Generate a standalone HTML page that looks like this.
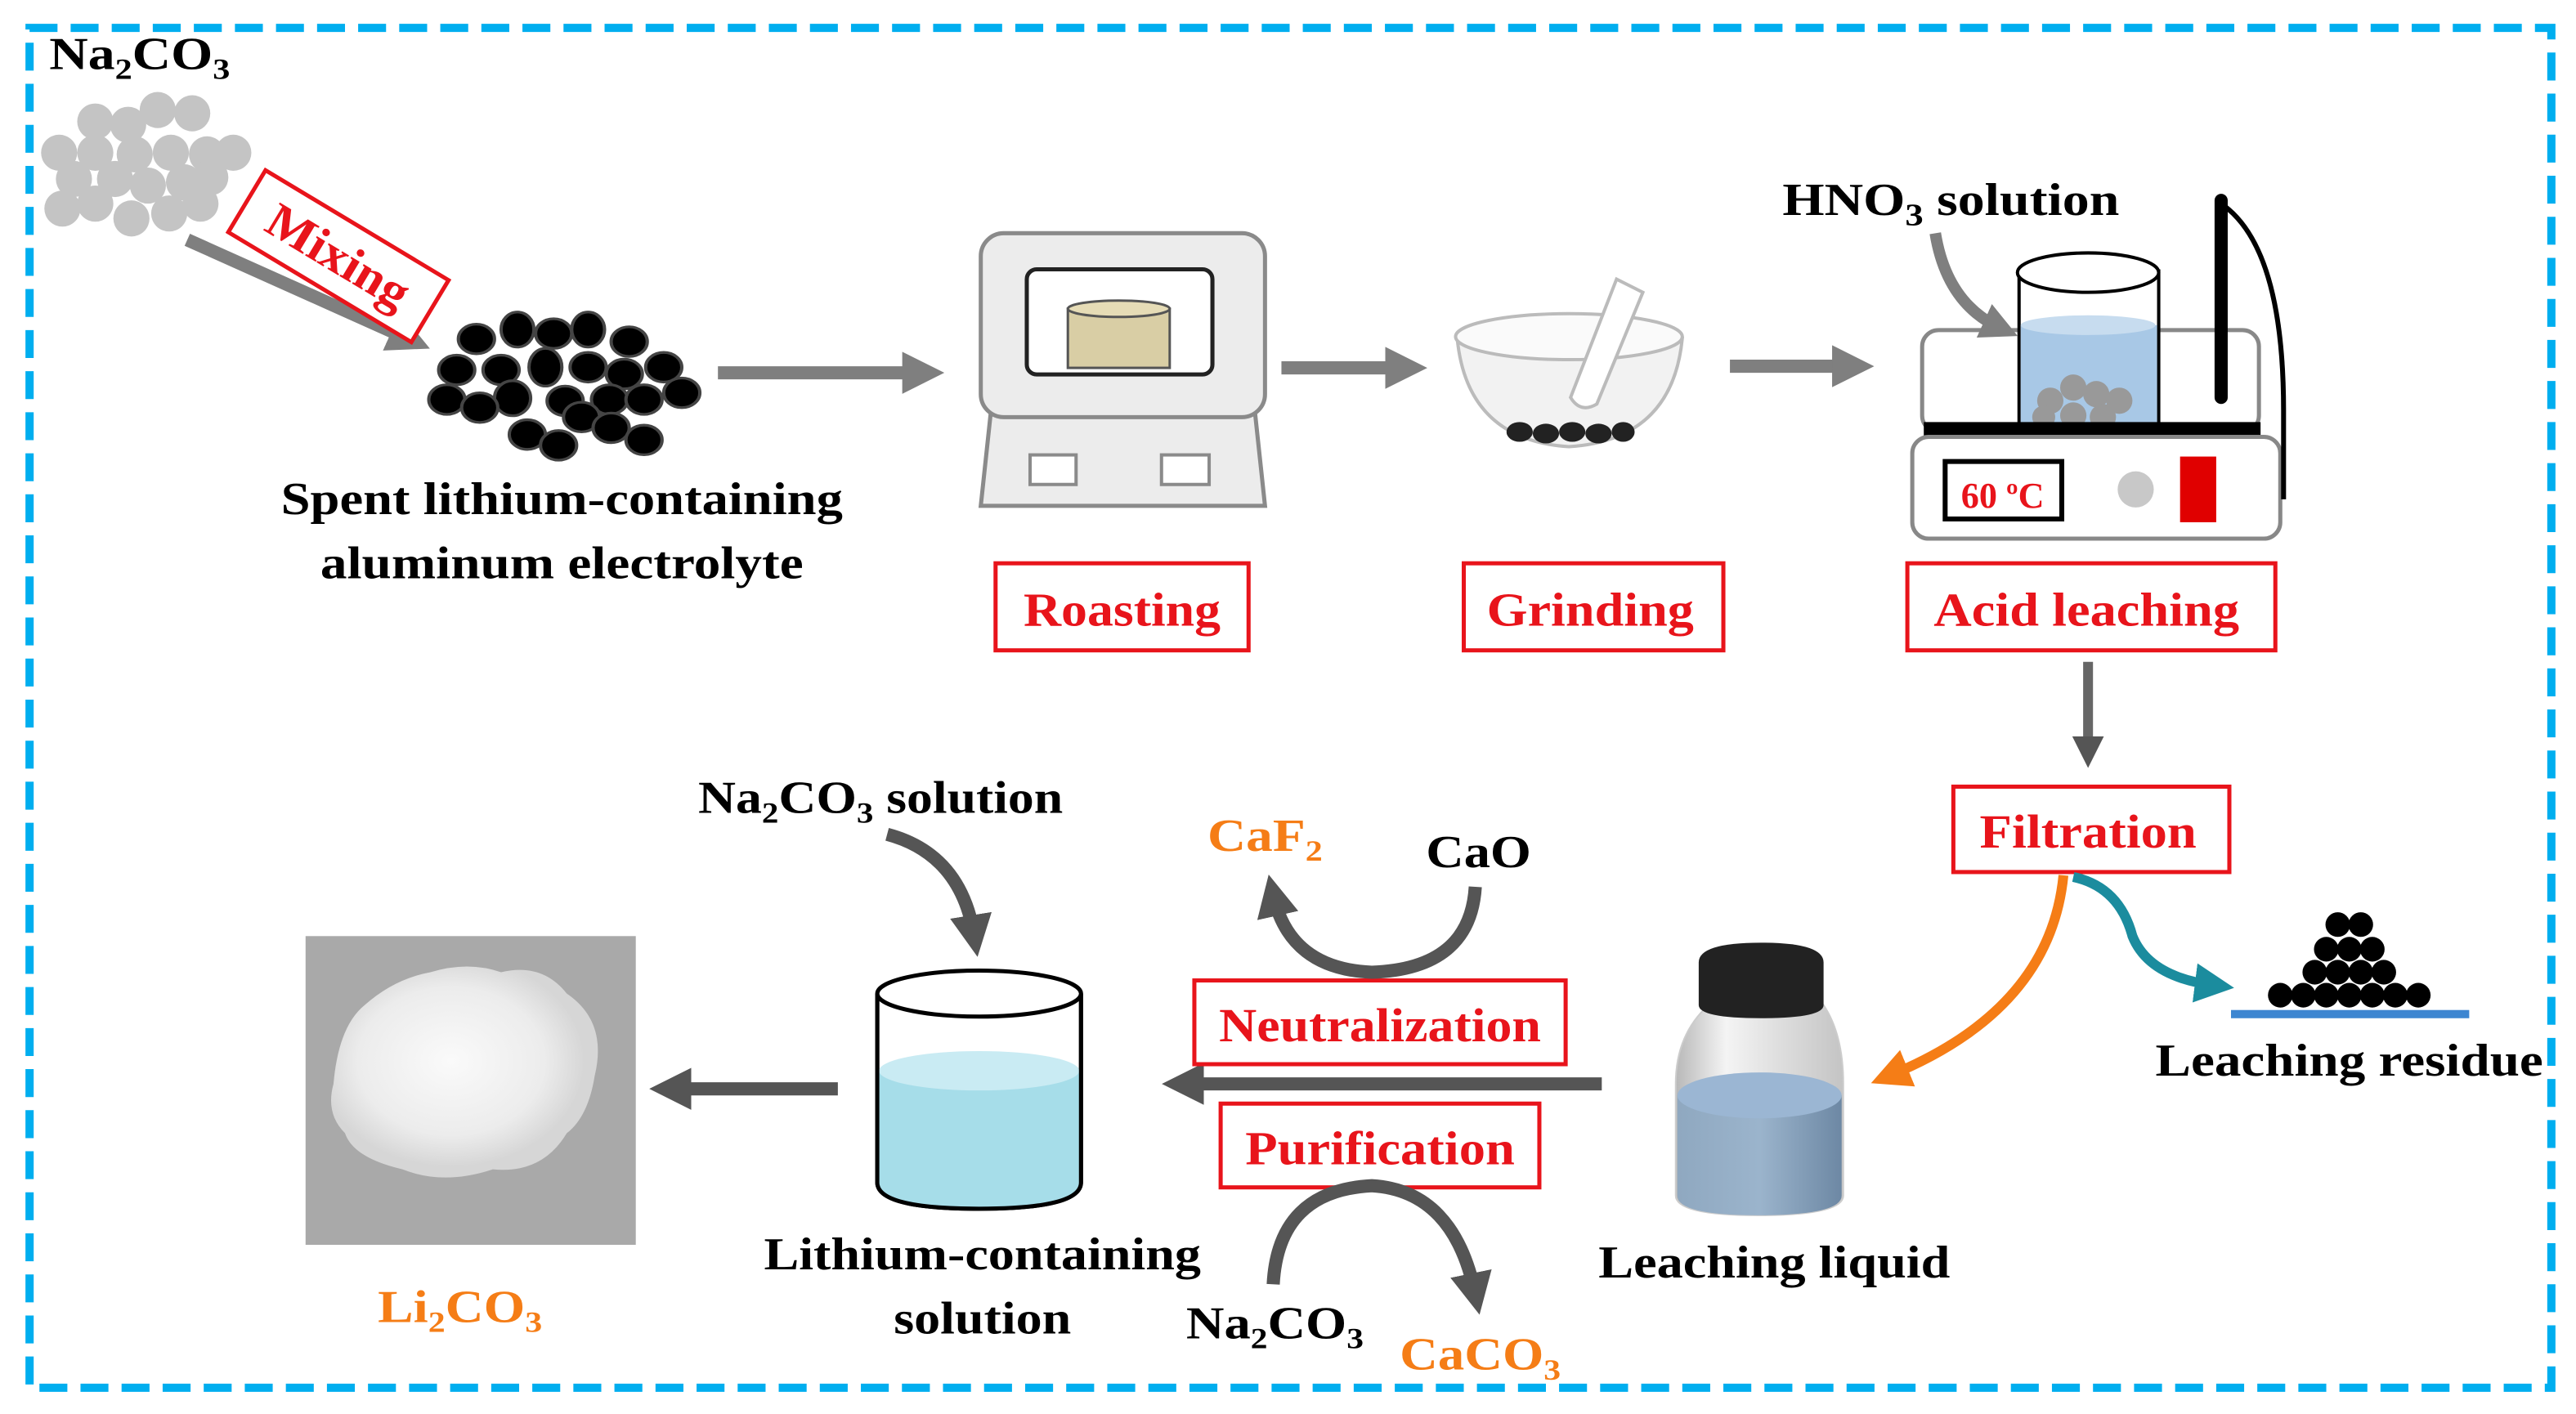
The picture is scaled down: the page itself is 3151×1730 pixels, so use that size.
<!DOCTYPE html>
<html><head><meta charset="utf-8"><style>
html,body{margin:0;padding:0;background:#fff;}
svg{display:block;}
text{font-family:"Liberation Serif",serif;font-weight:bold;}
</style></head><body>
<svg width="3151" height="1730" viewBox="0 0 1568 861" preserveAspectRatio="none" xmlns="http://www.w3.org/2000/svg">
<defs>
<marker id="ah" viewBox="0 0 10 10" refX="5" refY="5" markerWidth="3.2" markerHeight="3.2" orient="auto"><path d="M0,0 L10,5 L0,10 z" fill="#7f7f7f"/></marker>
<marker id="ahd" viewBox="0 0 10 10" refX="5" refY="5" markerWidth="3.2" markerHeight="3.2" orient="auto"><path d="M0,0 L10,5 L0,10 z" fill="#555"/></marker>
<marker id="aho" viewBox="0 0 10 10" refX="5" refY="5" markerWidth="4" markerHeight="4" orient="auto"><path d="M0,0 L10,5 L0,10 z" fill="#f57d16"/></marker>
<marker id="aht" viewBox="0 0 10 10" refX="5" refY="5" markerWidth="4" markerHeight="4" orient="auto"><path d="M0,0 L10,5 L0,10 z" fill="#1b8c9e"/></marker>
<linearGradient id="bot" x1="0" x2="1"><stop offset="0" stop-color="#b8b8b8"/><stop offset="0.3" stop-color="#f4f4f4"/><stop offset="1" stop-color="#c4c4c4"/></linearGradient>
<linearGradient id="liq" x1="0" x2="1"><stop offset="0" stop-color="#8fa8c0"/><stop offset="0.5" stop-color="#9bb4cc"/><stop offset="1" stop-color="#6d88a4"/></linearGradient>
<radialGradient id="pow" cx="0.45" cy="0.45" r="0.5"><stop offset="0" stop-color="#fafafa"/><stop offset="0.7" stop-color="#ececec"/><stop offset="1" stop-color="#d6d6d6"/></radialGradient>
</defs>

<rect x="18" y="17" width="1535" height="828" fill="none" stroke="#00aeef" stroke-width="5" stroke-dasharray="17 8"/>

<text x="30" y="42" font-size="28" textLength="110" lengthAdjust="spacingAndGlyphs">Na<tspan font-size="18" dy="6">2</tspan><tspan dy="-6">CO</tspan><tspan font-size="18" dy="6">3</tspan></text>
<g fill="#c4c4c4">
<circle cx="96" cy="67" r="11"/><circle cx="117" cy="69" r="11"/><circle cx="58" cy="74" r="11"/><circle cx="78" cy="76" r="11"/>
<circle cx="36" cy="93" r="11"/><circle cx="58" cy="93" r="11"/><circle cx="82" cy="94" r="11"/><circle cx="104" cy="93" r="11"/><circle cx="126" cy="94" r="11"/><circle cx="142" cy="93" r="11"/>
<circle cx="45" cy="109" r="11"/><circle cx="70" cy="109" r="11"/><circle cx="90" cy="113" r="11"/><circle cx="112" cy="111" r="11"/><circle cx="128" cy="108" r="11"/>
<circle cx="38" cy="127" r="11"/><circle cx="58" cy="124" r="11"/><circle cx="80" cy="133" r="11"/><circle cx="103" cy="130" r="11"/><circle cx="122" cy="124" r="11"/>
</g>
<line x1="114" y1="146" x2="250" y2="207" stroke="#7f7f7f" stroke-width="8" marker-end="url(#ah)"/>
<g transform="translate(206,156) rotate(31)">
<rect x="-65" y="-22" width="130" height="44" fill="#fff" stroke="#e8141b" stroke-width="2.5"/>
<text x="0" y="10" font-size="30" fill="#e8141b" text-anchor="middle" textLength="96" lengthAdjust="spacingAndGlyphs">Mixing</text>
</g>
<g fill="#000" stroke="#444" stroke-width="2" transform="translate(0,190) scale(1,0.82) translate(0,-191)">
<circle cx="290" cy="211" r="11"/><ellipse cx="315" cy="204" rx="10" ry="13"/><circle cx="337" cy="207" r="11"/><ellipse cx="358" cy="204" rx="10" ry="13"/><circle cx="383" cy="213" r="11"/>
<circle cx="278" cy="234" r="11"/><circle cx="305" cy="234" r="11"/><ellipse cx="332" cy="232" rx="10" ry="14"/><circle cx="358" cy="232" r="11"/><circle cx="380" cy="237" r="11"/><circle cx="404" cy="232" r="11"/>
<circle cx="272" cy="256" r="11"/><ellipse cx="312" cy="255" rx="11" ry="13"/><circle cx="344" cy="257" r="11"/><circle cx="371" cy="256" r="11"/><circle cx="392" cy="256" r="11"/><circle cx="415" cy="251" r="11"/>
<circle cx="292" cy="262" r="11"/><circle cx="321" cy="282" r="11"/><circle cx="354" cy="269" r="11"/><circle cx="372" cy="277" r="11"/><circle cx="340" cy="290" r="11"/><circle cx="392" cy="286" r="11"/>
</g>
<text x="342" y="313" font-size="28" text-anchor="middle" textLength="342" lengthAdjust="spacingAndGlyphs">Spent lithium-containing</text>
<text x="342" y="352" font-size="28" text-anchor="middle" textLength="294" lengthAdjust="spacingAndGlyphs">aluminum electrolyte</text>

<line x1="437" y1="227" x2="562" y2="227" stroke="#7f7f7f" stroke-width="8" marker-end="url(#ah)"/>
<line x1="780" y1="224" x2="856" y2="224" stroke="#7f7f7f" stroke-width="8" marker-end="url(#ah)"/>
<line x1="1053" y1="223" x2="1128" y2="223" stroke="#7f7f7f" stroke-width="8" marker-end="url(#ah)"/>

<path d="M603,252 L597,308 L770,308 L764,252 Z" fill="#ececec" stroke="#8a8a8a" stroke-width="2.5"/>
<rect x="597" y="142" width="173" height="112" rx="14" fill="#ececec" stroke="#8a8a8a" stroke-width="2.5"/>
<rect x="625" y="164" width="113" height="64" rx="6" fill="#fff" stroke="#222" stroke-width="2.5"/>
<rect x="650" y="188" width="62" height="36" fill="#d9cea5" stroke="#555" stroke-width="1.5"/>
<ellipse cx="681" cy="188" rx="31" ry="5" fill="#e6dcb6" stroke="#555" stroke-width="1.5"/>
<rect x="627" y="277" width="28" height="18" fill="#fff" stroke="#8a8a8a" stroke-width="2"/>
<rect x="707" y="277" width="29" height="18" fill="#fff" stroke="#8a8a8a" stroke-width="2"/>
<rect x="606" y="343" width="154" height="53" fill="#fff" stroke="#e8141b" stroke-width="2.5"/>
<text x="683" y="381" font-size="29" fill="#e8141b" text-anchor="middle" textLength="120" lengthAdjust="spacingAndGlyphs">Roasting</text>

<path d="M887,206 Q893,268 955,272 Q1018,268 1024,206 Z" fill="#f2f2f2" stroke="#bbb" stroke-width="2"/>
<ellipse cx="955" cy="205" rx="69" ry="14" fill="#fafafa" stroke="#bbb" stroke-width="2"/>
<g fill="#222"><ellipse cx="925" cy="263" rx="8" ry="6"/><ellipse cx="941" cy="264" rx="8" ry="6"/><ellipse cx="957" cy="263" rx="8" ry="6"/><ellipse cx="973" cy="264" rx="8" ry="6"/><ellipse cx="988" cy="263" rx="7" ry="6"/></g>
<path d="M984,170 L1000,178 L972,246 Q962,252 956,242 Z" fill="#fff" stroke="#bbb" stroke-width="2"/>
<rect x="891" y="343" width="158" height="53" fill="#fff" stroke="#e8141b" stroke-width="2.5"/>
<text x="968" y="381" font-size="29" fill="#e8141b" text-anchor="middle" textLength="126" lengthAdjust="spacingAndGlyphs">Grinding</text>

<rect x="1170" y="201" width="205" height="62" rx="10" fill="#fff" stroke="#888" stroke-width="2.5"/>
<rect x="1229" y="165" width="85" height="95" fill="#fff" stroke="#000" stroke-width="2"/>
<rect x="1230" y="198" width="83" height="62" fill="#a8c8e6"/>
<ellipse cx="1271" cy="198" rx="41" ry="6" fill="#c7dcef"/>
<ellipse cx="1271" cy="166" rx="43" ry="12" fill="#fff" stroke="#000" stroke-width="2"/>
<g fill="#999"><circle cx="1248" cy="244" r="8"/><circle cx="1262" cy="236" r="8"/><circle cx="1276" cy="240" r="8"/><circle cx="1290" cy="244" r="8"/><circle cx="1244" cy="254" r="7"/><circle cx="1262" cy="253" r="8"/><circle cx="1280" cy="254" r="8"/></g>
<rect x="1171" y="257" width="205" height="9" fill="#000"/>
<rect x="1164" y="266" width="224" height="62" rx="10" fill="#fff" stroke="#888" stroke-width="2.5"/>
<rect x="1184" y="281" width="71" height="35" fill="#fff" stroke="#000" stroke-width="3"/>
<text x="1219" y="309" font-size="22" fill="#e8141b" text-anchor="middle" font-weight="normal">60 ºC</text>
<circle cx="1300" cy="298" r="11" fill="#c8c8c8"/>
<rect x="1327" y="278" width="22" height="40" fill="#e00000"/>
<line x1="1352" y1="122" x2="1352" y2="242" stroke="#000" stroke-width="8" stroke-linecap="round"/>
<path d="M1352,124 Q1390,150 1390,250 L1390,304" fill="none" stroke="#000" stroke-width="3"/>
<path d="M1178,142 Q1185,185 1218,200" fill="none" stroke="#7f7f7f" stroke-width="7" marker-end="url(#ah)"/>
<text x="1085" y="131" font-size="28" textLength="205" lengthAdjust="spacingAndGlyphs">HNO<tspan font-size="19" dy="6">3</tspan><tspan dy="-6">  solution</tspan></text>
<rect x="1161" y="343" width="224" height="53" fill="#fff" stroke="#e8141b" stroke-width="2.5"/>
<text x="1270" y="381" font-size="29" fill="#e8141b" text-anchor="middle" textLength="186" lengthAdjust="spacingAndGlyphs">Acid leaching</text>

<line x1="1271" y1="403" x2="1271" y2="458" stroke="#666" stroke-width="6" marker-end="url(#ahd)"/>
<rect x="1189" y="479" width="168" height="52" fill="#fff" stroke="#e8141b" stroke-width="2.5"/>
<text x="1271" y="516" font-size="29" fill="#e8141b" text-anchor="middle" textLength="132" lengthAdjust="spacingAndGlyphs">Filtration</text>
<path d="M1256,533 Q1248,615 1150,655" fill="none" stroke="#f57d16" stroke-width="6" marker-end="url(#aho)"/>
<path d="M1262,534 Q1290,540 1298,570 Q1308,595 1348,600" fill="none" stroke="#1b8c9e" stroke-width="6" marker-end="url(#aht)"/>
<g fill="#000">
<circle cx="1423" cy="563" r="7.5"/><circle cx="1437" cy="563" r="7.5"/>
<circle cx="1416" cy="578" r="7.5"/><circle cx="1430" cy="578" r="7.5"/><circle cx="1444" cy="578" r="7.5"/>
<circle cx="1409" cy="592" r="7.5"/><circle cx="1423" cy="592" r="7.5"/><circle cx="1437" cy="592" r="7.5"/><circle cx="1451" cy="592" r="7.5"/>
<circle cx="1388" cy="606" r="7.5"/><circle cx="1402" cy="606" r="7.5"/><circle cx="1416" cy="606" r="7.5"/><circle cx="1430" cy="606" r="7.5"/><circle cx="1444" cy="606" r="7.5"/><circle cx="1458" cy="606" r="7.5"/><circle cx="1472" cy="606" r="7.5"/>
</g>
<rect x="1358" y="615" width="145" height="5" fill="#3d86d1"/>
<text x="1430" y="655" font-size="28" text-anchor="middle" textLength="236" lengthAdjust="spacingAndGlyphs">Leaching residue</text>

<path d="M1040,612 L1110,612 Q1122,630 1122,660 L1122,728 Q1122,740 1070,740 Q1020,740 1020,728 L1020,660 Q1020,630 1040,612 Z" fill="url(#bot)" stroke="#ccc" stroke-width="1"/>
<path d="M1021,667 L1021,728 Q1021,740 1070,740 Q1121,740 1121,728 L1121,667 Z" fill="url(#liq)"/>
<ellipse cx="1071" cy="667" rx="50" ry="14" fill="#9bb6d3"/>
<path d="M1034,586 Q1034,574 1072,574 Q1110,574 1110,586 L1110,612 Q1110,620 1072,620 Q1034,620 1034,612 Z" fill="#222"/>
<text x="1080" y="778" font-size="28" text-anchor="middle" textLength="214" lengthAdjust="spacingAndGlyphs">Leaching liquid</text>

<line x1="975" y1="660" x2="720" y2="660" stroke="#555" stroke-width="8" marker-end="url(#ahd)"/>
<rect x="727" y="597" width="226" height="51" fill="#fff" stroke="#e8141b" stroke-width="2.5"/>
<text x="840" y="634" font-size="29" fill="#e8141b" text-anchor="middle" textLength="196" lengthAdjust="spacingAndGlyphs">Neutralization</text>
<rect x="743" y="672" width="194" height="51" fill="#fff" stroke="#e8141b" stroke-width="2.5"/>
<text x="840" y="709" font-size="29" fill="#e8141b" text-anchor="middle" textLength="164" lengthAdjust="spacingAndGlyphs">Purification</text>

<text x="735" y="518" font-size="28" fill="#f57d16" textLength="70" lengthAdjust="spacingAndGlyphs">CaF<tspan font-size="18" dy="6">2</tspan></text>
<text x="868" y="528" font-size="28" textLength="64" lengthAdjust="spacingAndGlyphs">CaO</text>
<path d="M898,540 Q895,590 835,592 Q785,590 775,545" fill="none" stroke="#555" stroke-width="8" marker-end="url(#ahd)"/>
<path d="M775,782 Q778,725 835,722 Q885,725 898,788" fill="none" stroke="#555" stroke-width="8" marker-end="url(#ahd)"/>
<text x="722" y="815" font-size="28" textLength="108" lengthAdjust="spacingAndGlyphs">Na<tspan font-size="18" dy="6">2</tspan><tspan dy="-6">CO</tspan><tspan font-size="18" dy="6">3</tspan></text>
<text x="852" y="834" font-size="28" fill="#f57d16" textLength="98" lengthAdjust="spacingAndGlyphs">CaCO<tspan font-size="18" dy="6">3</tspan></text>

<text x="425" y="495" font-size="28" textLength="222" lengthAdjust="spacingAndGlyphs">Na<tspan font-size="18" dy="6">2</tspan><tspan dy="-6">CO</tspan><tspan font-size="18" dy="6">3</tspan><tspan dy="-6"> solution</tspan></text>
<path d="M540,508 Q585,520 593,570" fill="none" stroke="#555" stroke-width="8" marker-end="url(#ahd)"/>
<path d="M534,605 L534,720 Q534,736 596,736 Q658,736 658,720 L658,605" fill="#fff" stroke="#000" stroke-width="2.5"/>
<path d="M535,652 L535,720 Q535,735 596,735 Q657,735 657,720 L657,652 Z" fill="#a6dde9"/>
<ellipse cx="596" cy="652" rx="61" ry="12" fill="#c9ebf3"/>
<path d="M534,605 L534,720 Q534,736 596,736 Q658,736 658,720 L658,605" fill="none" stroke="#000" stroke-width="2.5"/>
<ellipse cx="596" cy="605" rx="62" ry="14" fill="#fff" stroke="#000" stroke-width="2.5"/>
<text x="598" y="773" font-size="28" text-anchor="middle" textLength="266" lengthAdjust="spacingAndGlyphs">Lithium-containing</text>
<text x="598" y="812" font-size="28" text-anchor="middle" textLength="108" lengthAdjust="spacingAndGlyphs">solution</text>

<line x1="510" y1="663" x2="408" y2="663" stroke="#555" stroke-width="8" marker-end="url(#ahd)"/>

<rect x="186" y="570" width="201" height="188" fill="#a9a9a9"/>
<path d="M203,660 Q206,625 222,612 Q240,596 262,592 Q285,585 305,592 Q330,586 345,605 Q370,622 362,655 Q358,680 345,690 Q330,715 300,712 Q270,722 245,712 Q215,705 210,690 Q198,678 203,660 Z" fill="url(#pow)"/>
<text x="280" y="805" font-size="28" fill="#f57d16" text-anchor="middle" textLength="100" lengthAdjust="spacingAndGlyphs">Li<tspan font-size="18" dy="6">2</tspan><tspan dy="-6">CO</tspan><tspan font-size="18" dy="6">3</tspan></text>
</svg>
</body></html>
